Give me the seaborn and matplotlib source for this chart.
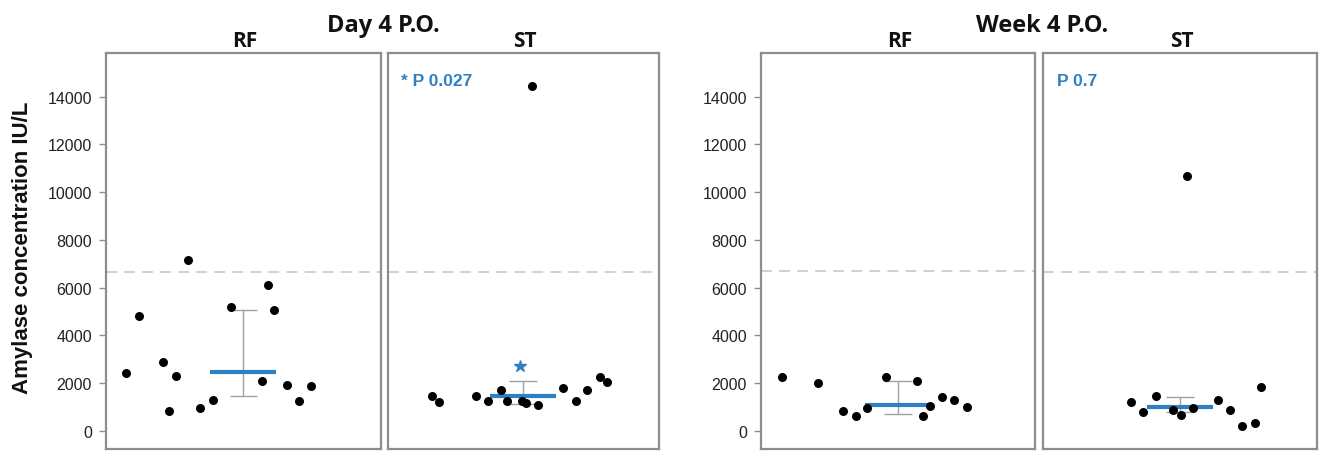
import matplotlib
matplotlib.use("Agg")
import matplotlib.pyplot as plt
import seaborn as sns
import pandas as pd
import numpy as np

# ---------------- data ----------------
timepoints = ["Day 4 P.O.", "Week 4 P.O."]
groups = ["RF", "ST"]

day4_rf_amylase = [2431, 4808, 7139, 2880, 2318, 851, 964, 1312, 5186, 6091, 5043, 2109, 1941, 1245, 1874]
day4_rf_jitter = [0.073, 0.120, 0.298, 0.209, 0.255, 0.231, 0.342, 0.389, 0.456, 0.591, 0.612, 0.568, 0.658, 0.703, 0.747]

day4_st_amylase = [14433, 1455, 1228, 1480, 1270, 1731, 1270, 1270, 1161, 1090, 1803, 1270, 1731, 2276, 2041]
day4_st_jitter = [0.532, 0.166, 0.190, 0.326, 0.371, 0.419, 0.440, 0.495, 0.510, 0.557, 0.646, 0.694, 0.738, 0.785, 0.810]

week4_rf_amylase = [2276, 2000, 826, 641, 952, 2276, 2083, 641, 1061, 1438, 1300, 1019]
week4_rf_jitter = [0.076, 0.209, 0.300, 0.346, 0.388, 0.456, 0.570, 0.592, 0.617, 0.659, 0.705, 0.751]

week4_st_amylase = [10660, 1228, 809, 1480, 893, 683, 964, 1312, 893, 197, 323, 1832]
week4_st_jitter = [0.524, 0.321, 0.366, 0.412, 0.476, 0.503, 0.546, 0.638, 0.682, 0.727, 0.774, 0.796]

# summary (median with interquartile range) per panel: D4 RF, D4 ST, W4 RF, W4 ST
medians = [2461, 1455, 1102, 1019]
q1_values = [1455, 1132, 713, 809]
q3_values = [5043, 2083, 2109, 1438]
reference_limit = [6650, 6650, 6690, 6650]

p_labels = ["", "* P 0.027", "", "P 0.7"]
star_value = 2737   # significance star above ST Day 4

y_ticks = [0, 2000, 4000, 6000, 8000, 10000, 12000, 14000]
y_label = "Amylase concentration IU/L"

# ---------------- table ----------------
frames = []
for tp, grp, amy, jit in [
    (timepoints[0], groups[0], day4_rf_amylase, day4_rf_jitter),
    (timepoints[0], groups[1], day4_st_amylase, day4_st_jitter),
    (timepoints[1], groups[0], week4_rf_amylase, week4_rf_jitter),
    (timepoints[1], groups[1], week4_st_amylase, week4_st_jitter),
]:
    frames.append(pd.DataFrame({"timepoint": tp, "group": grp, "pos": jit, "amylase": amy}))
df = pd.concat(frames, ignore_index=True)

# ---------------- style ----------------
sns.set_theme(style="white")
plt.rcParams["font.family"] = ["Liberation Sans", "DejaVu Sans"]

BLUE = "#2f80c2"
SPINE = "#8d8d8d"
W, H = 1320, 452
fig = plt.figure(figsize=(W / 100, H / 100), dpi=100)

# panel boxes in pixels (left, right)
boxes = [(106, 380.5), (387.5, 658.5), (761, 1035), (1043, 1317)]
top_px, bot_px = 53.5, 450
ylim = (-760, 15850)

axes = []
k = 0
for ti, tp in enumerate(timepoints):
    for gi, grp in enumerate(groups):
        l, r = boxes[k]
        ax = fig.add_axes([l / W, 1 - bot_px / H, (r - l) / W, (bot_px - top_px) / H])
        sub = df[(df.timepoint == tp) & (df.group == grp)]
        # reference upper limit
        ax.axhline(reference_limit[k], color="#cdcdcd", lw=1.3, ls=(0, (6, 4)), zorder=1)
        # IQR error bar
        ax.vlines(0.5, q1_values[k], q3_values[k], color="#a0a0a0", lw=1.0, zorder=2)
        ax.hlines([q1_values[k], q3_values[k]], 0.45, 0.55, color="#a0a0a0", lw=1.0, zorder=2)
        # median line
        ax.hlines(medians[k], 0.38, 0.62, color=BLUE, lw=3.0, zorder=2.5)
        sns.scatterplot(data=sub, x="pos", y="amylase", color="black", s=42,
                        linewidth=0, ax=ax, zorder=3, legend=False)
        ax.set_xlim(0, 1)
        ax.set_ylim(*ylim)
        ax.set_xticks([])
        ax.set_xlabel("")
        ax.set_ylabel("")
        for sp in ax.spines.values():
            sp.set_color(SPINE)
            sp.set_linewidth(1.6)
        if gi == 0:
            ax.set_yticks(y_ticks)
            ax.tick_params(axis="y", left=True, length=5, width=1.0, color=SPINE,
                           labelsize=11.5, labelcolor="#222222", pad=5)
        else:
            ax.set_yticks([])
        if p_labels[k]:
            ax.text(0.05, 0.93, p_labels[k], transform=ax.transAxes, color=BLUE,
                    fontsize=12.5, fontweight="bold", ha="left", va="center")
        # group label
        fig.text(((l + r) / 2 + 2) / W, 1 - 47 / H, grp, ha="center", va="baseline",
                 fontsize=15, fontweight="bold", family=["Open Sans", "DejaVu Sans"],
                 color="#111111")
        axes.append(ax)
        k += 1

# significance star
axes[1].plot([0.49], [star_value], marker="*", color=BLUE, markersize=9, linestyle="none", zorder=4)

# y label
axes[0].set_ylabel(y_label, fontsize=16, fontweight="bold", color="#111111")
axes[0].yaxis.set_label_coords(-0.265, 0.51)

# timepoint titles
fig.text(383 / W, 1 - 32 / H, timepoints[0], ha="center", va="baseline", fontsize=17,
         fontweight="bold", family=["Open Sans", "DejaVu Sans"], color="#111111")
fig.text(1042 / W, 1 - 32 / H, timepoints[1], ha="center", va="baseline", fontsize=17,
         fontweight="bold", family=["Open Sans", "DejaVu Sans"], color="#111111")

fig.savefig("out.png", dpi=100)
